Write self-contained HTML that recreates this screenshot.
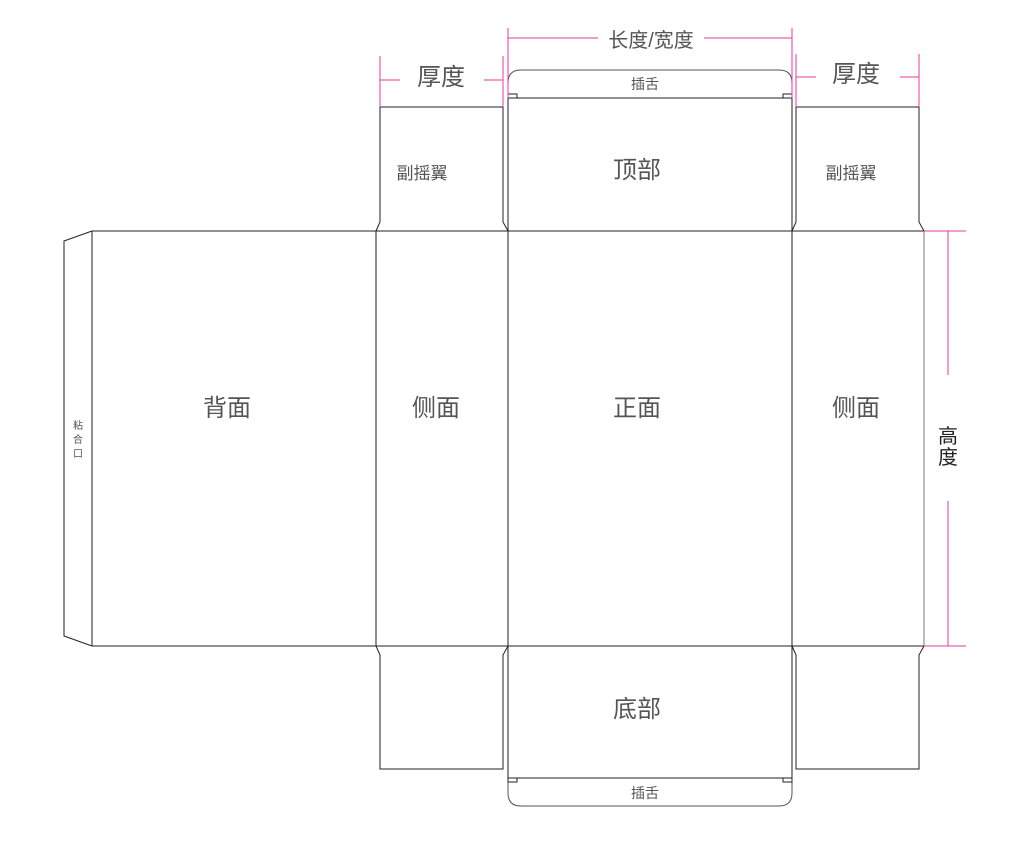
<!DOCTYPE html>
<html><head><meta charset="utf-8"><style>
html,body{margin:0;padding:0;background:#fff;}
svg{display:block}
text{font-family:"Liberation Sans","Noto Sans CJK SC",sans-serif;fill:#555;}
</style></head><body>
<svg width="1027" height="852" viewBox="0 0 1027 852" xmlns="http://www.w3.org/2000/svg">
<g fill="none" stroke="#222" stroke-width="1">
<path d="M92,231 L64,241 L64,636 L92,646"/>
<line x1="92" y1="231" x2="924" y2="231"/>
<line x1="92" y1="646" x2="924" y2="646"/>
<line x1="92" y1="231" x2="92" y2="646"/>
<line x1="376" y1="231" x2="376" y2="646"/>
<line x1="508" y1="231" x2="508" y2="646"/>
<line x1="792" y1="231" x2="792" y2="646"/>
<line x1="924" y1="231" x2="924" y2="646" stroke="#777"/>
<path d="M376,231 L380,222 L380,107 L503,107 L503,222 L508,231"/>
<path d="M508,231 L508,98 L792,98 L792,231"/>
<path d="M508,98 L508,83 Q508,70 521,70 L779,70 Q792,70 792,83 L792,98" stroke="#555"/>
<rect x="508" y="94" width="9" height="4"/>
<rect x="783" y="94" width="9" height="4"/>
<path d="M792,231 L796,222 L796,107 L919,107 L919,222 L924,231"/>
<path d="M376,646 L380,655 L380,769 L503,769 L503,655 L508,646"/>
<path d="M508,646 L508,778 L792,778 L792,646"/>
<path d="M508,778 L508,793 Q508,806 521,806 L779,806 Q792,806 792,793 L792,778" stroke="#555"/>
<rect x="508" y="778" width="9" height="4"/>
<rect x="783" y="778" width="9" height="4"/>
<path d="M792,646 L796,655 L796,769 L919,769 L919,655 L924,646"/>
</g>
<g stroke="#e83a9e" stroke-width="1" fill="none">
<line x1="380" y1="56" x2="380" y2="107"/>
<line x1="503" y1="56" x2="503" y2="107"/>
<line x1="380" y1="80" x2="400" y2="80"/>
<line x1="484" y1="80" x2="503" y2="80"/>
<line x1="508" y1="28" x2="508" y2="98"/>
<line x1="792" y1="28" x2="792" y2="98"/>
<line x1="508" y1="38" x2="598" y2="38"/>
<line x1="704" y1="38" x2="792" y2="38"/>
<line x1="796" y1="54" x2="796" y2="107"/>
<line x1="919" y1="54" x2="919" y2="107"/>
<line x1="796" y1="77" x2="816" y2="77"/>
<line x1="900" y1="77" x2="919" y2="77"/>
<line x1="924" y1="231" x2="966" y2="231"/>
<line x1="924" y1="646" x2="966" y2="646"/>
<line x1="948" y1="231" x2="948" y2="375"/>
<line x1="948" y1="501" x2="948" y2="646"/>
</g>
<g text-anchor="middle">
<text x="441" y="85" font-size="24">厚度</text>
<text x="651" y="47" font-size="20">长度/宽度</text>
<text x="856" y="82" font-size="24">厚度</text>
<text x="948" y="443" font-size="20" style="fill:#222">高</text>
<text x="948" y="464" font-size="20" style="fill:#222">度</text>
<text x="645" y="89" font-size="14">插舌</text>
<text x="645" y="798" font-size="14">插舌</text>
<text x="422" y="179" font-size="17">副摇翼</text>
<text x="851" y="179" font-size="17">副摇翼</text>
<text x="637" y="178" font-size="24">顶部</text>
<text x="637" y="717" font-size="24">底部</text>
<text x="227" y="416" font-size="24">背面</text>
<text x="436" y="416" font-size="24">侧面</text>
<text x="637" y="416" font-size="24">正面</text>
<text x="856" y="416" font-size="24">侧面</text>
<text x="78" y="429" font-size="10">粘</text>
<text x="78" y="443" font-size="10">合</text>
<text x="78" y="457" font-size="10">口</text>
</g>
</svg>
</body></html>
